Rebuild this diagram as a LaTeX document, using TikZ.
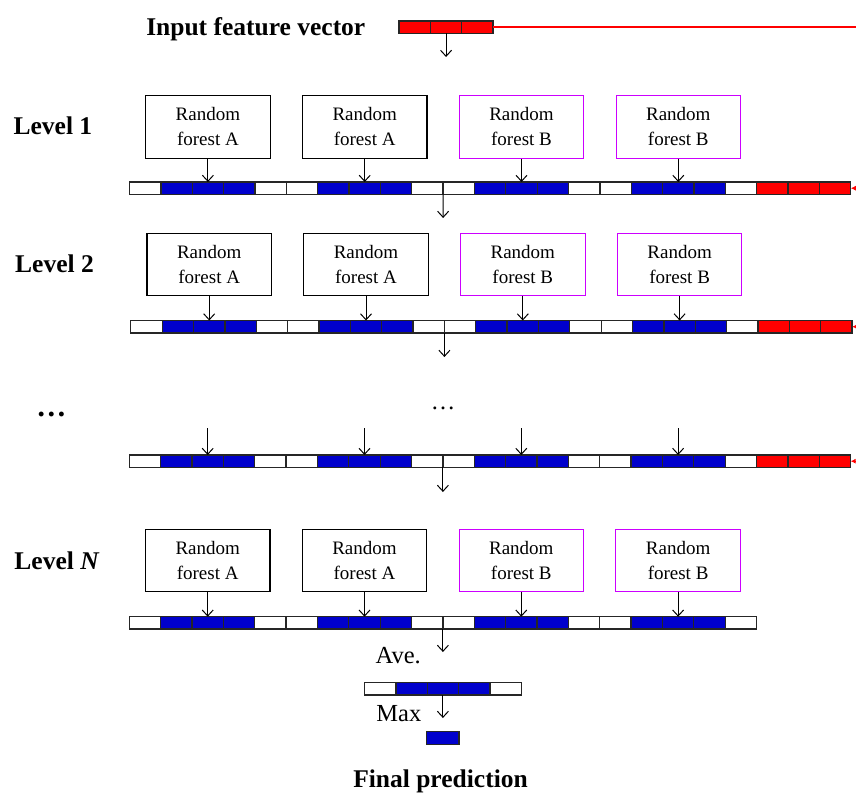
\documentclass[tikz,border=0pt]{standalone}
\usepackage{fontspec}
\setmainfont{Liberation Serif}
\usetikzlibrary{arrows.meta}
\definecolor{cblue}{RGB}{0,0,204}
\definecolor{cred}{RGB}{255,0,0}
\definecolor{cmag}{RGB}{204,0,255}
\newcommand\mkbar[4]{%
  \foreach \c [count=\i from 0] in {#4} {
    \node[cell,fill=\c] (#1c\i) at ({#2+31.36*(\i+0.5)},{#3+6.2}) {};
  }
  \foreach \c [count=\i from 0] in {#4} {
    \draw[cellborder] (#1c\i.north west) rectangle (#1c\i.south east);
  }}
\begin{document}
\begin{tikzpicture}[x=1pt,y=-1pt,
  cell/.style={minimum width=31.36pt,minimum height=12.4pt,inner sep=0pt,outer sep=0pt},
  cellborder/.style={draw=black!85,line width=1.3pt},
  forest/.style={draw=black,line width=1.1pt,minimum width=124.5pt,minimum height=62.4pt,inner sep=0pt,align=center,font=\fontsize{19}{25}\selectfont},
  forestB/.style={forest,draw=cmag},
  arr/.style={line width=1pt,-{Straight Barb[length=6pt,width=11pt,line width=1pt]}},
  redarr/.style={draw=cred,color=cred,line width=1pt,-{Latex[length=5pt,width=5pt]}},
  big/.style={font=\fontsize{25.5}{30}\selectfont\bfseries,inner sep=0pt,anchor=base},
  mid/.style={font=\fontsize{24.5}{30}\selectfont,inner sep=0pt,anchor=base}
]
\useasboundingbox (0,0) rectangle (856,794);

% ---------- input ----------
\node[big] (t0) at (255.8,36) {Input feature vector};
\coordinate (rl) at (856,27.2);
\mkbar{Iv}{399}{21}{cred,cred,cred}
\draw[draw=cred,color=cred,line width=1.4pt] (Ivc2.east) -- (rl);
\coordinate (d0) at (446.04,57);
\draw[arr] (Ivc1.south) -- (d0);

% ---------- level 1 ----------
\node[big] (l1) at (52.9,135) {Level 1};
\mkbar{La}{129.5}{182}{white,cblue,cblue,cblue,white,white,cblue,cblue,cblue,white,white,cblue,cblue,cblue,white,white,cblue,cblue,cblue,white,cred,cred,cred}
\node[forest]  (a11) at (207.9,126.9) {Random\\forest A};
\node[forest]  (a12) at (364.7,126.9) {Random\\forest A};
\node[forestB] (b11) at (521.5,126.9) {Random\\forest B};
\node[forestB] (b12) at (678.3,126.9) {Random\\forest B};
\draw[arr] (a11) -- (Lac2);
\draw[arr] (a12) -- (Lac7);
\draw[arr] (b11) -- (Lac12);
\draw[arr] (b12) -- (Lac17);
\coordinate (ra1) at (857,188.2);
\draw[redarr] (ra1) -- (Lac22.east);
\coordinate (d1) at (443.1,218);
\draw[arr] (Lac9.south east) -- (d1);

% ---------- level 2 ----------
\node[big] (l2) at (54.5,272.3) {Level 2};
\mkbar{Lb}{130.8}{320.5}{white,cblue,cblue,cblue,white,white,cblue,cblue,cblue,white,white,cblue,cblue,cblue,white,white,cblue,cblue,cblue,white,cred,cred,cred}
\node[forest]  (a21) at (209.2,264.5) {Random\\forest A};
\node[forest]  (a22) at (366.0,264.5) {Random\\forest A};
\node[forestB] (b21) at (522.8,264.5) {Random\\forest B};
\node[forestB] (b22) at (679.6,264.5) {Random\\forest B};
\draw[arr] (a21) -- (Lbc2);
\draw[arr] (a22) -- (Lbc7);
\draw[arr] (b21) -- (Lbc12);
\draw[arr] (b22) -- (Lbc17);
\coordinate (ra2) at (857,326.7);
\draw[redarr] (ra2) -- (Lbc22.east);
\coordinate (d2) at (444.4,357);
\draw[arr] (Lbc9.south east) -- (d2);

% ---------- dots level ----------
\node[font=\fontsize{30}{34}\selectfont\bfseries,inner sep=0pt,anchor=base] (l3) at (51.3,416.5) {…};
\node[mid] (dots) at (443,409) {…};
\mkbar{Lc}{129.3}{455}{white,cblue,cblue,cblue,white,white,cblue,cblue,cblue,white,white,cblue,cblue,cblue,white,white,cblue,cblue,cblue,white,cred,cred,cred}
\coordinate (s1) at (207.7,428.3);
\coordinate (s2) at (364.5,428.3);
\coordinate (s3) at (521.3,428.3);
\coordinate (s4) at (678.1,428.3);
\draw[arr] (s1) -- (Lcc2.north);
\draw[arr] (s2) -- (Lcc7.north);
\draw[arr] (s3) -- (Lcc12.north);
\draw[arr] (s4) -- (Lcc17.north);
\coordinate (ra3) at (857,461.2);
\draw[redarr] (ra3) -- (Lcc22.east);
\coordinate (d3) at (442.9,492);
\draw[arr] (Lcc9.south east) -- (d3);

% ---------- level N ----------
\node[big] (ln) at (57,569.3) {Level \textit{N}};
\mkbar{Ld}{129.3}{616.7}{white,cblue,cblue,cblue,white,white,cblue,cblue,cblue,white,white,cblue,cblue,cblue,white,white,cblue,cblue,cblue,white}
\node[forest]  (an1) at (207.7,560.5) {Random\\forest A};
\node[forest]  (an2) at (364.5,560.5) {Random\\forest A};
\node[forestB] (bn1) at (521.3,560.5) {Random\\forest B};
\node[forestB] (bn2) at (678.1,560.5) {Random\\forest B};
\draw[arr] (an1) -- (Ldc2);
\draw[arr] (an2) -- (Ldc7);
\draw[arr] (bn1) -- (Ldc12);
\draw[arr] (bn2) -- (Ldc17);
\coordinate (d4) at (442.9,652);
\draw[arr] (Ldc9.south east) -- (d4);

% ---------- average & max ----------
\node[mid] (ave) at (398.3,663) {Ave.};
\mkbar{Av}{364.5}{682.7}{white,cblue,cblue,cblue,white}
\node[mid] (max) at (398.8,721.7) {Max};
\coordinate (d5) at (442.9,718);
\draw[arr] (Avc2.south) -- (d5);
\node[cell,fill=cblue,minimum width=32.3pt] (fin) at (442.9,738) {};
\draw[cellborder] (fin.north west) rectangle (fin.south east);
\node[big] (fp) at (440.5,787) {Final prediction};
\end{tikzpicture}
\end{document}
